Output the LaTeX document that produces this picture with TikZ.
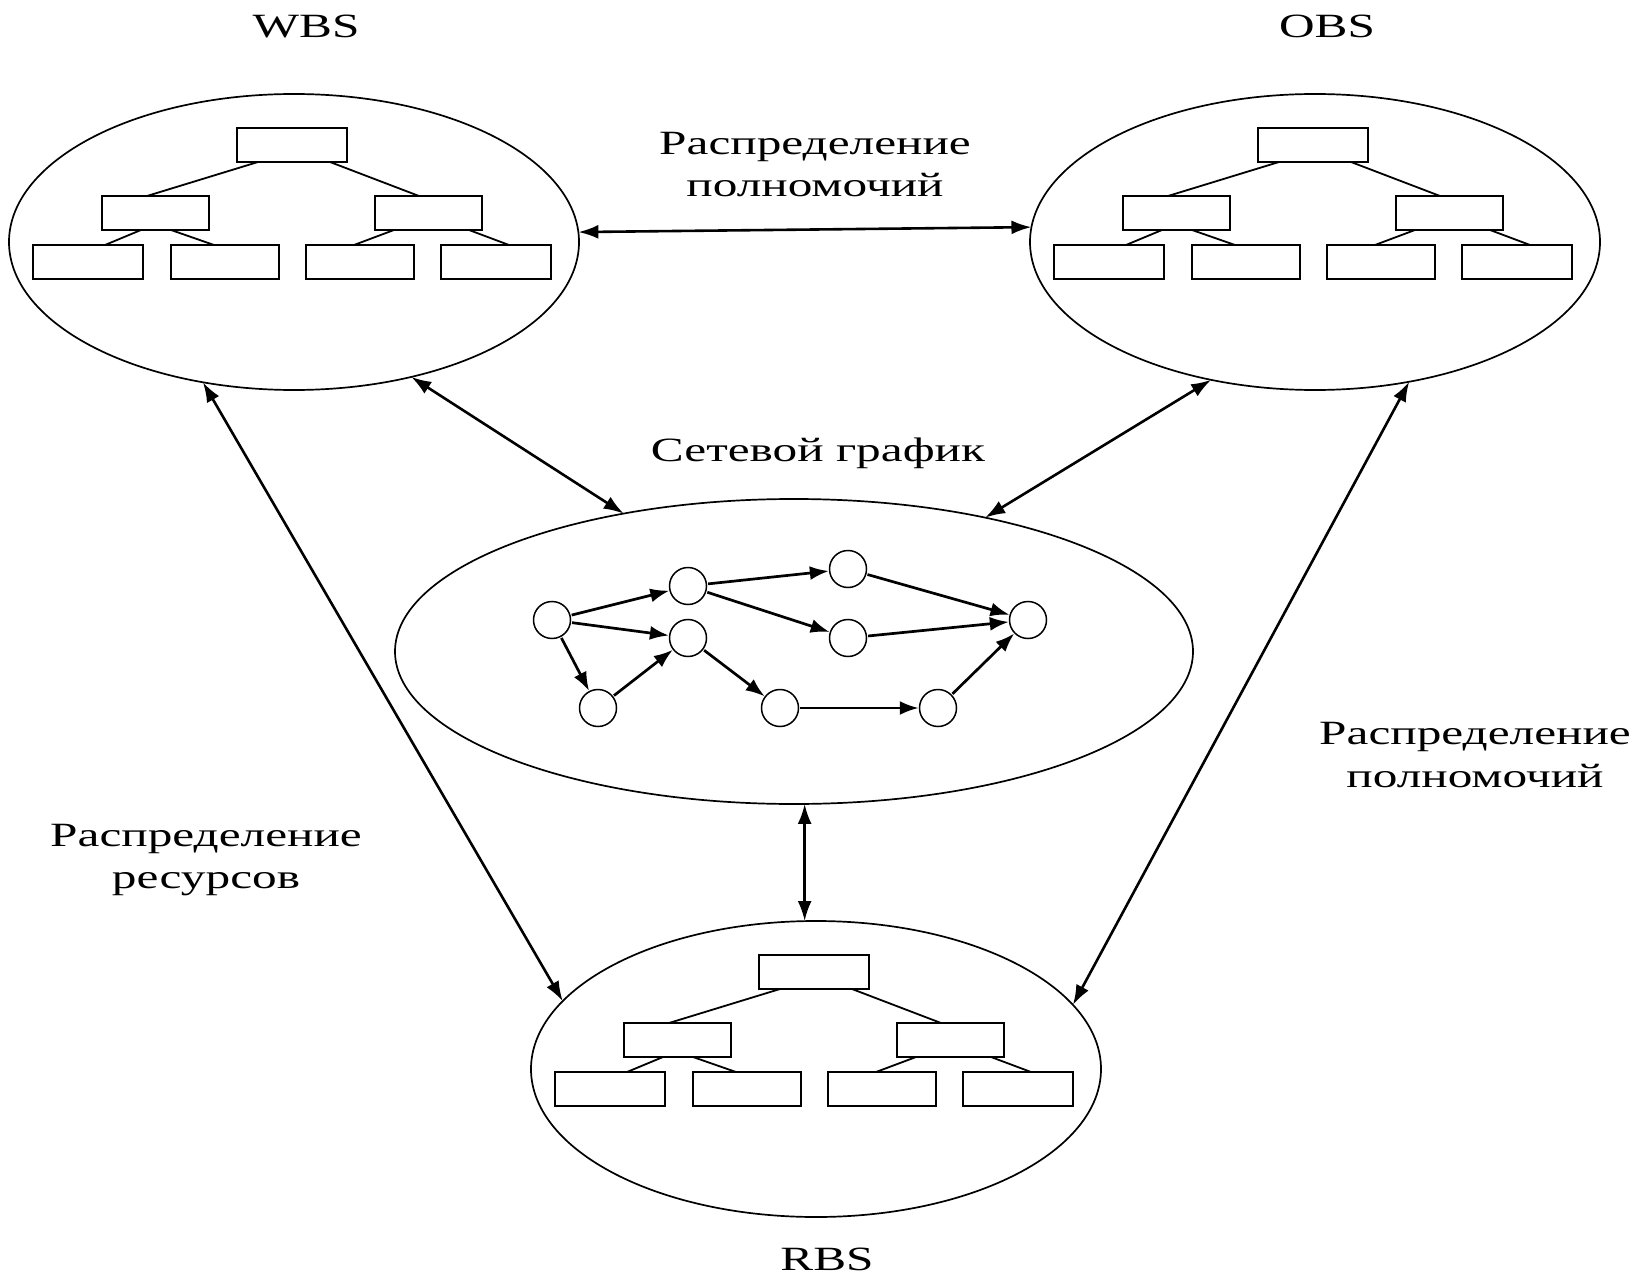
\documentclass[tikz,border=0pt]{standalone}
\usepackage{fontspec}
\setmainfont{Liberation Serif}[FakeStretch=1.45]
\usetikzlibrary{shapes.geometric,arrows.meta}
\tikzset{
  bigell/.style={ellipse, draw, line width=1.7pt, inner sep=0pt, outer sep=0pt, minimum width=570pt, minimum height=296pt},
  netell/.style={ellipse, draw, line width=1.7pt, inner sep=0pt, outer sep=0pt, minimum width=798pt, minimum height=305pt},
  orgbox/.style={draw, line width=2pt, inner sep=0pt, outer sep=0pt, minimum width=108pt, minimum height=34pt},
  tline/.style={line width=1.8pt},
  ev/.style={circle, draw, line width=1.5pt, minimum size=37pt, inner sep=0pt},
  nar/.style={line width=2.7pt, -{Latex[length=19pt,width=14pt]}, shorten <=1pt},
  biar/.style={line width=2.6pt, {Latex[length=20pt,width=14pt]}-{Latex[length=20pt,width=14pt]}},
  lbl/.style={font=\fontsize{34pt}{40pt}\selectfont, inner sep=0pt, anchor=base},
}
\newcommand{\orgtree}[3]{%
  \begin{scope}[shift={(#2,#3)}]
    \node[orgbox, minimum width=110pt] (#1t) at (0,-97) {};
    \node[orgbox, minimum width=107pt] (#1l) at (-137,-29) {};
    \node[orgbox, minimum width=107pt] (#1r) at (136,-29) {};
    \node[orgbox, minimum width=110pt] (#1a) at (-204,20) {};
    \node[orgbox, minimum width=108pt] (#1b) at (-67,20) {};
    \node[orgbox, minimum width=108pt] (#1c) at (68,20) {};
    \node[orgbox, minimum width=110pt] (#1d) at (204,20) {};
    \draw[tline] ([xshift=-34pt]#1t.south) -- ([xshift=-8pt]#1l.north);
    \draw[tline] ([xshift=38pt]#1t.south) -- ([xshift=-9pt]#1r.north);
    \draw[tline] ([xshift=-14pt]#1l.south) -- ([xshift=17pt]#1a.north);
    \draw[tline] ([xshift=16pt]#1l.south) -- ([xshift=-11pt]#1b.north);
    \draw[tline] ([xshift=-34pt]#1r.south) -- ([xshift=-6pt]#1c.north);
    \draw[tline] ([xshift=41pt]#1r.south) -- ([xshift=13pt]#1d.north);
  \end{scope}}
\begin{document}
\begin{tikzpicture}[x=1pt, y=-1pt]
  \useasboundingbox[fill=white] (0,0) rectangle (1633,1281);

  % main ellipses
  \node[bigell] (wbs) at (294,242) {};
  \node[bigell] (obs) at (1315,242) {};
  \node[bigell] (rbs) at (816,1069) {};
  \node[netell] (net) at (794,651.5) {};

  % trees
  \orgtree{w}{292}{242}
  \orgtree{o}{1313}{242}
  \orgtree{r}{814}{1069}

  % network
  \node[ev] (n1) at (552,620) {};
  \node[ev] (n2) at (688,586) {};
  \node[ev] (n3) at (688,638) {};
  \node[ev] (n4) at (848,569) {};
  \node[ev] (n5) at (848,638) {};
  \node[ev] (n6) at (1028,620) {};
  \node[ev] (n7) at (598,708) {};
  \node[ev] (n8) at (780,708) {};
  \node[ev] (n9) at (938,708) {};
  \draw[nar] (n1) -- (n2);
  \draw[nar] (n1) -- (n3);
  \draw[nar] (n1) -- (n7);
  \draw[nar] (n7) -- (n3);
  \draw[nar] (n2) -- (n4);
  \draw[nar] (n2) -- (n5);
  \draw[nar] (n3) -- (n8);
  \draw[nar] (n4) -- (n6);
  \draw[nar] (n5) -- (n6);
  \draw[nar] (n8) -- (n9);
  \draw[nar] (n9) -- (n6);

  % connectors between structures
  \draw[biar] (wbs.2.4) -- (obs.177.6);
  \draw[biar] (wbs.-123.2) -- (rbs.165.6);
  \draw[biar] (wbs.-49.8) -- (net.141.9);
  \draw[biar] (obs.-127.9) -- (net.35);
  \draw[biar] (obs.-56.8) -- (rbs.14.3);
  \draw[biar] (net.-86.6) -- (net.-86.6 |- rbs.north);

  % labels
  \node[lbl] (lwbs) at (306,38) {WBS};
  \node[lbl] (lobs) at (1327,38) {OBS};
  \node[lbl] (lrbs) at (827,1270) {RBS};
  \node[lbl] (lnet) at (818,461) {Сетевой график};
  \node[lbl] (lt1) at (815,155) {Распределение};
  \node[lbl] (lt2) at (815,197) {полномочий};
  \node[lbl] (ll1) at (206,846) {Распределение};
  \node[lbl] (ll2) at (206,888) {ресурсов};
  \node[lbl] (lr1) at (1475,744) {Распределение};
  \node[lbl] (lr2) at (1475,787) {полномочий};
\end{tikzpicture}
\end{document}
